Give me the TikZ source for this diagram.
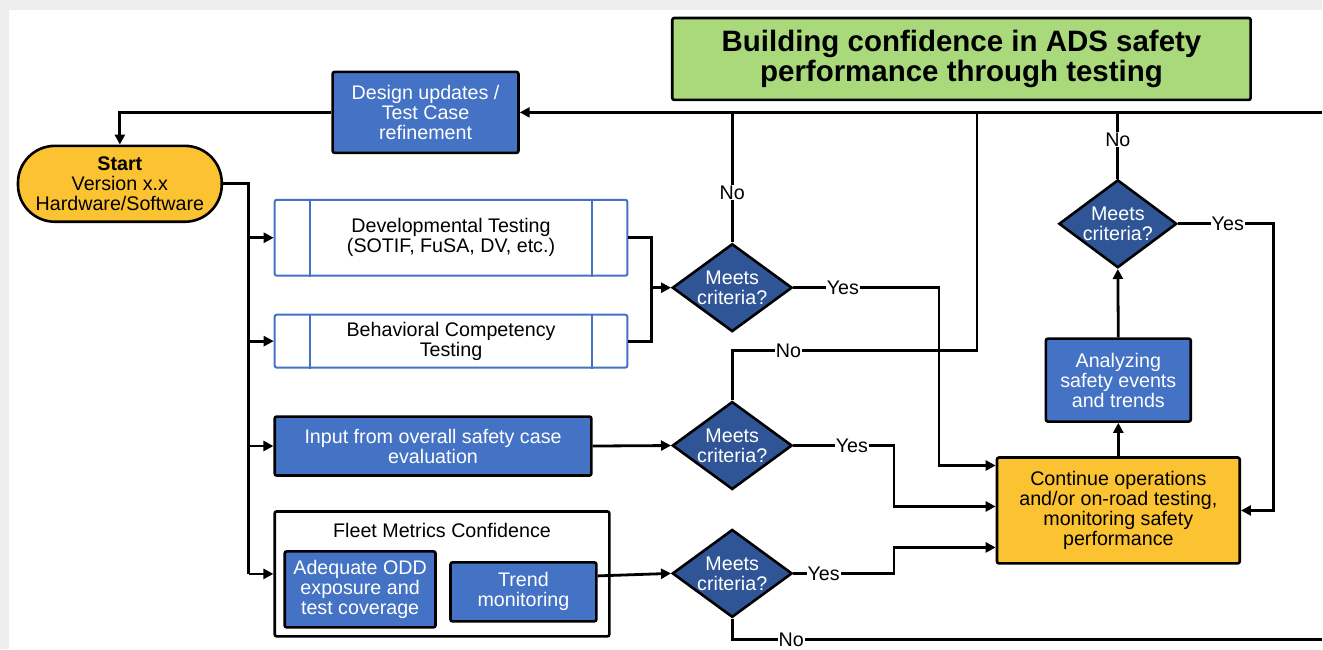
\documentclass[tikz,border=0pt]{standalone}
\usepackage{fontspec}
\setmainfont{Liberation Sans}
\usetikzlibrary{shapes.geometric,arrows.meta,calc}
\definecolor{boxblue}{HTML}{4472C4}
\definecolor{darkblue}{HTML}{2F5597}
\definecolor{yel}{HTML}{FBC331}
\definecolor{grn}{HTML}{A9D97A}
\definecolor{bgray}{HTML}{EDEDED}
\begin{document}
\begin{tikzpicture}[x=1pt,y=-1pt,
  every node/.style={font=\fontsize{19.7}{20}\selectfont, align=center, inner sep=0pt},
  bluebox/.style={draw=black, line width=2.6pt, fill=boxblue, text=white, rounded corners=2pt},
  yelbox/.style={draw=black, line width=2.6pt, fill=yel, text=black, rounded corners=2pt},
  procbox/.style={draw=boxblue, line width=2pt, fill=white, text=black, rounded corners=2pt},
  dia/.style={diamond, draw=black, line width=2.6pt, fill=darkblue, minimum width=120, minimum height=88},
  conn/.style={draw=black, line width=2.8pt},
  arr/.style={conn, -{Triangle[length=10pt,width=10pt]}},
  lbl/.style={fill=white, inner sep=1pt}
]
\fill[bgray] (0,0) rectangle (1323,650);
\fill[white] (9,10) rectangle (1323,650);

% nodes
\node[draw=black, line width=2.6pt, fill=grn, minimum width=579, minimum height=82,
      font=\fontsize{29.5}{30}\selectfont\bfseries, rounded corners=2pt] (title) at (962.5,59)
      {Building confidence in ADS safety\\performance through testing};
\node[bluebox, minimum width=186, minimum height=81] (design) at (426,112.5)
      {Design updates /\\Test Case\\refinement};
\node[yelbox, minimum width=204, minimum height=76, rounded corners=37pt] (start) at (120,184)
      {\textbf{Start}\\Version x.x\\Hardware/Software};
\node[procbox, minimum width=353, minimum height=76] (dev) at (451.5,238)
      {Developmental Testing\\(SOTIF, FuSA, DV, etc.)};
\node[procbox, minimum width=353, minimum height=53] (beh) at (451.5,341.5)
      {Behavioral Competency\\Testing};
\foreach \n in {dev,beh}{
  \draw[boxblue, line width=2pt] ($(\n.north west)+(36,0)$) -- ($(\n.south west)+(36,0)$);
  \draw[boxblue, line width=2pt] ($(\n.north east)+(-36,0)$) -- ($(\n.south east)+(-36,0)$);
}
\node[bluebox, minimum width=317, minimum height=59] (inp) at (433.5,446.5)
      {Input from overall safety case\\evaluation};
\node[draw=black, line width=2.6pt, fill=white, minimum width=335, minimum height=125, rounded corners=2pt] (fleet) at (442.5,574.5) {};
\node (fleettitle) at (442.5,531) {Fleet Metrics Confidence};
\node[bluebox, minimum width=151, minimum height=76] (odd) at (360.5,590)
      {Adequate ODD\\exposure and\\test coverage};
\node[bluebox, minimum width=146, minimum height=59] (trend) at (524,592.5)
      {Trend\\monitoring};

\node[dia, label={[text=white]center:Meets\\criteria?}] (d1) at (733,288) {};
\node[dia, label={[text=white]center:Meets\\criteria?}] (d2) at (733,446) {};
\node[dia, label={[text=white]center:Meets\\criteria?}] (d3) at (733,574) {};
\node[dia, minimum width=118, label={[text=white]center:Meets\\criteria?}] (d4) at (1119,224) {};

\node[yelbox, minimum width=243, minimum height=106] (cont) at (1119.5,511)
      {Continue operations\\and/or on-road testing,\\monitoring safety\\performance};
\node[bluebox, minimum width=145, minimum height=83] (ana) at (1119.5,380.5)
      {Analyzing\\safety events\\and trends};

% coordinates
\coordinate (tr) at (1323,112.5);
\coordinate (tb) at (249,574.5);
\coordinate (m1) at (652,288);
\coordinate (y1) at (940,288);
\coordinate (n2a) at (733,351);
\coordinate (n2b) at (978,351);
\coordinate (n2c) at (978,112.5);
\coordinate (y2) at (895,446);
\coordinate (y3) at (895,574);
\coordinate (n3a) at (733,640);
\coordinate (n3b) at (1323,640);
\coordinate (y4) at (1275,224);

% connectors
\draw[arr] (tr) -- (design.east);
\draw[arr] (design.west) -| (start.north);
\draw[conn] (start.east) -| (tb);
\draw[arr] (dev.west -| tb) -- (dev.west);
\draw[arr] (beh.west -| tb) -- (beh.west);
\draw[arr] (inp.west -| tb) -- (inp.west);
\draw[arr] (tb) -- (fleet.west);
\draw[conn] (dev.east) -| (m1);
\draw[conn] (beh.east) -| (m1);
\draw[arr] (m1) -- (d1.west);
\draw[conn] (d1.north) -- node[lbl, pos=0.385] {No} (d1.north |- tr);
\draw[arr] (d1.east) -- node[lbl, pos=0.34] {Yes} (y1) |- ($(cont.west)+(0,-45)$);
\draw[arr] (inp.east) -- (d2.west);
\draw[conn] (d2.north) -- (n2a) -- node[lbl, pos=0.23] {No} (n2b) -- (n2c);
\draw[arr] (d2.east) -- node[lbl, pos=0.58] {Yes} (y2) |- ($(cont.west)+(0,-4)$);
\draw[arr] ($(trend.east)+(0,-16)$) -- (d3.west);
\draw[arr] (d3.east) -- node[lbl, pos=0.3] {Yes} (y3) |- ($(cont.west)+(0,37)$);
\draw[conn] (d3.south) -- (n3a) -- node[lbl, pos=0.1] {No} (n3b);
\draw[arr] (cont.north) -- (ana.south);
\draw[arr] (ana.north) -- (d4.south);
\draw[conn] (d4.north) -- node[lbl, pos=0.59] {No} (d4.north |- tr);
\draw[arr] (d4.east) -- node[lbl, pos=0.52] {Yes} (y4) |- (cont.east);
\end{tikzpicture}
\end{document}
